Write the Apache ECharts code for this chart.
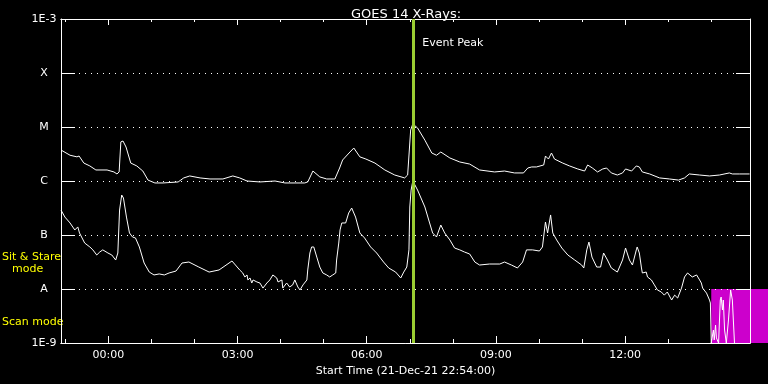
<!DOCTYPE html>
<html>
<head>
<meta charset="utf-8">
<title>GOES 14 X-Rays</title>
<script src="https://cdn.jsdelivr.net/npm/echarts@6.0.0/dist/echarts.min.js"></script>
<style>
  html, body { margin: 0; padding: 0; background: #000; }
  #chart { width: 768px; height: 384px; }
</style>
</head>
<body>
<div id="chart"></div>
<script>
// time is in hours from 00:00 UT 22-Dec-21 (plot starts 21-Dec-21 22:54)
const startHour = -1.1;
const endHour = 14.9;
const peakHour = 7.07;
const scanStartHour = 14.0;

const majorHours = [0, 3, 6, 9, 12];
const minorHours = [-1, 0, 1, 2, 3, 4, 5, 6, 7, 8, 9, 10, 11, 12, 13, 14];
const levelNames = { "-3": "1E-3", "-4": "X", "-5": "M", "-6": "C", "-7": "B", "-8": "A", "-9": "1E-9" };

// 1-8 A channel (upper curve), W/m^2
const longChannel = [
  [-1.10, 3.75e-6], [-0.89, 3.0e-6], [-0.73, 2.8e-6], [-0.68, 2.9e-6], [-0.57, 2.15e-6],
  [-0.43, 1.9e-6], [-0.29, 1.6e-6], [-0.03, 1.6e-6], [0.13, 1.47e-6], [0.20, 1.35e-6],
  [0.25, 1.47e-6], [0.29, 5.3e-6], [0.34, 5.5e-6], [0.41, 4.26e-6], [0.52, 2.15e-6],
  [0.66, 1.9e-6], [0.80, 1.53e-6], [0.92, 1.04e-6], [1.08, 0.92e-6], [1.27, 0.92e-6],
  [1.62, 0.96e-6], [1.75, 1.14e-6], [1.89, 1.24e-6], [2.13, 1.14e-6], [2.36, 1.09e-6],
  [2.66, 1.09e-6], [2.89, 1.24e-6], [3.05, 1.14e-6], [3.22, 1.0e-6], [3.52, 0.96e-6],
  [3.87, 1.0e-6], [4.10, 0.92e-6], [4.56, 0.92e-6], [4.63, 0.96e-6], [4.75, 1.53e-6],
  [4.91, 1.19e-6], [5.07, 1.09e-6], [5.26, 1.09e-6], [5.37, 1.74e-6], [5.44, 2.45e-6],
  [5.61, 3.44e-6], [5.70, 4.08e-6], [5.84, 2.8e-6], [5.98, 2.55e-6], [6.19, 2.15e-6],
  [6.42, 1.6e-6], [6.65, 1.29e-6], [6.88, 1.14e-6], [6.95, 1.29e-6], [7.02, 8.8e-6],
  [7.07, 1.14e-5], [7.18, 9.6e-6], [7.35, 5.7e-6], [7.51, 3.3e-6], [7.62, 3.0e-6],
  [7.72, 3.44e-6], [7.93, 2.67e-6], [8.16, 2.25e-6], [8.39, 2.06e-6], [8.62, 1.6e-6],
  [8.97, 1.47e-6], [9.20, 1.53e-6], [9.43, 1.41e-6], [9.64, 1.41e-6], [9.74, 1.74e-6],
  [9.83, 1.82e-6], [9.94, 1.82e-6], [10.11, 1.98e-6], [10.15, 2.9e-6], [10.22, 2.55e-6],
  [10.29, 3.3e-6], [10.36, 2.55e-6], [10.55, 2.15e-6], [10.71, 1.9e-6], [10.90, 1.67e-6],
  [11.06, 1.53e-6], [11.13, 1.98e-6], [11.24, 1.74e-6], [11.36, 1.47e-6], [11.48, 1.67e-6],
  [11.57, 1.74e-6], [11.68, 1.41e-6], [11.82, 1.29e-6], [11.94, 1.41e-6], [12.01, 1.67e-6],
  [12.15, 1.53e-6], [12.26, 1.9e-6], [12.33, 1.82e-6], [12.40, 1.47e-6], [12.57, 1.35e-6],
  [12.80, 1.14e-6], [13.03, 1.09e-6], [13.24, 1.04e-6], [13.38, 1.14e-6], [13.49, 1.35e-6],
  [13.73, 1.29e-6], [13.96, 1.24e-6], [14.19, 1.29e-6], [14.42, 1.41e-6], [14.49, 1.35e-6],
  [14.65, 1.35e-6], [14.89, 1.35e-6]
];

// 0.5-4 A channel (lower curve), W/m^2
const shortChannel = [
  [-1.10, 2.9e-7], [-1.01, 2.15e-7], [-0.89, 1.67e-7], [-0.78, 1.24e-7], [-0.71, 1.41e-7],
  [-0.67, 1.09e-7], [-0.55, 7.1e-8], [-0.43, 6.0e-8], [-0.36, 5.3e-8], [-0.27, 4.26e-8],
  [-0.20, 4.84e-8], [-0.13, 5.3e-8], [-0.01, 4.64e-8], [0.08, 4.26e-8], [0.17, 3.44e-8],
  [0.22, 4.64e-8], [0.26, 2.9e-7], [0.31, 5.5e-7], [0.35, 4.84e-7], [0.42, 2.15e-7],
  [0.49, 1.09e-7], [0.56, 9.2e-8], [0.63, 8.8e-8], [0.72, 6.0e-8], [0.83, 3.03e-8],
  [0.95, 2.06e-8], [1.06, 1.82e-8], [1.18, 1.9e-8], [1.30, 1.82e-8], [1.41, 1.98e-8],
  [1.57, 2.15e-8], [1.71, 3.03e-8], [1.87, 3.16e-8], [2.10, 2.55e-8], [2.34, 2.06e-8],
  [2.57, 2.25e-8], [2.87, 3.3e-8], [3.05, 2.25e-8], [3.12, 1.98e-8], [3.17, 1.67e-8],
  [3.22, 1.82e-8], [3.24, 1.47e-8], [3.29, 1.6e-8], [3.33, 1.29e-8], [3.36, 1.47e-8],
  [3.45, 1.35e-8], [3.52, 1.29e-8], [3.59, 1.04e-8], [3.68, 1.29e-8], [3.75, 1.47e-8],
  [3.82, 1.82e-8], [3.84, 1.98e-8], [3.91, 1.6e-8], [3.94, 1.35e-8], [3.98, 1.29e-8],
  [4.03, 1.47e-8], [4.05, 1.04e-8], [4.14, 1.29e-8], [4.21, 1.09e-8], [4.28, 1.19e-8],
  [4.33, 1.47e-8], [4.40, 1.09e-8], [4.45, 9.6e-9], [4.52, 1.19e-8], [4.61, 1.47e-8],
  [4.63, 2.25e-8], [4.68, 4.64e-8], [4.72, 6.0e-8], [4.77, 6.0e-8], [4.84, 3.9e-8],
  [4.91, 2.55e-8], [4.98, 1.98e-8], [5.07, 1.82e-8], [5.14, 1.67e-8], [5.21, 1.82e-8],
  [5.28, 1.98e-8], [5.30, 3.44e-8], [5.35, 7.1e-8], [5.38, 1.24e-7], [5.42, 1.67e-7],
  [5.51, 1.67e-7], [5.58, 2.55e-7], [5.65, 3.16e-7], [5.74, 2.15e-7], [5.84, 1.09e-7],
  [5.95, 8.8e-8], [6.09, 6.0e-8], [6.23, 4.64e-8], [6.39, 3.16e-8], [6.51, 2.45e-8],
  [6.67, 2.06e-8], [6.79, 1.6e-8], [6.86, 2.06e-8], [6.93, 2.55e-8], [6.98, 5.3e-8],
  [7.00, 3.3e-7], [7.03, 6.8e-7], [7.07, 1.0e-6], [7.18, 6.8e-7], [7.35, 3.3e-7],
  [7.46, 1.67e-7], [7.53, 1.09e-7], [7.62, 9.2e-8], [7.72, 1.53e-7], [7.81, 1.09e-7],
  [7.93, 8.1e-8], [8.04, 5.74e-8], [8.16, 5.3e-8], [8.27, 4.84e-8], [8.39, 4.45e-8],
  [8.51, 3.16e-8], [8.62, 2.78e-8], [8.85, 2.9e-8], [9.09, 2.9e-8], [9.20, 3.16e-8],
  [9.36, 2.78e-8], [9.50, 2.45e-8], [9.62, 3.16e-8], [9.71, 5.3e-8], [9.85, 5.3e-8],
  [10.01, 5.05e-8], [10.08, 6.0e-8], [10.15, 1.74e-7], [10.20, 1.09e-7], [10.27, 2.35e-7],
  [10.32, 1.09e-7], [10.41, 8.1e-8], [10.53, 5.74e-8], [10.67, 4.26e-8], [10.83, 3.44e-8],
  [10.99, 2.78e-8], [11.04, 2.45e-8], [11.11, 5.3e-8], [11.16, 7.4e-8], [11.23, 3.9e-8],
  [11.34, 2.55e-8], [11.43, 2.55e-8], [11.50, 4.64e-8], [11.59, 3.44e-8], [11.68, 2.45e-8],
  [11.82, 2.06e-8], [11.94, 3.44e-8], [12.01, 5.74e-8], [12.10, 3.44e-8], [12.17, 2.78e-8],
  [12.26, 5.3e-8], [12.28, 6.0e-8], [12.33, 4.64e-8], [12.38, 2.45e-8], [12.40, 1.98e-8],
  [12.49, 2.06e-8], [12.52, 1.67e-8], [12.61, 1.47e-8], [12.68, 1.19e-8], [12.75, 9.6e-9],
  [12.84, 8.8e-9], [12.91, 7.7e-9], [12.98, 8.8e-9], [13.08, 6.25e-9], [13.15, 7.7e-9],
  [13.22, 6.8e-9], [13.31, 1.04e-8], [13.38, 1.67e-8], [13.45, 1.98e-8], [13.49, 1.98e-8],
  [13.56, 1.67e-8], [13.66, 1.82e-8], [13.73, 1.47e-8], [13.77, 1.29e-8], [13.80, 1.04e-8],
  [13.89, 8.4e-9], [13.96, 6.25e-9], [13.98, 5.5e-9], [14.00, 1.0e-9], [14.05, 1.74e-9],
  [14.07, 1.14e-9], [14.10, 2.15e-9], [14.12, 1.24e-9], [14.17, 1.0e-9], [14.21, 6.25e-9],
  [14.23, 7.1e-9], [14.26, 4.08e-9], [14.28, 6.25e-9], [14.31, 1.74e-9], [14.35, 1.0e-9],
  [14.40, 2.67e-9], [14.45, 9.6e-9], [14.47, 1.0e-8], [14.49, 6.25e-9], [14.54, 1.0e-9]
];

// scan mode band: [start hour, top flux, bottom flux]
const scanBand = [[scanStartHour, 1e-8, 1e-9]];

const font = "DejaVu Sans";
const white = "#ffffff";

const hhmm = (v) => (v < 10 ? "0" + v : "" + v) + ":00";

const timeAxis = (position, ticks, tickLen, extra) =>
  Object.assign(
    {
      type: "value",
      position: position,
      min: startHour,
      max: endHour,
      splitLine: { show: false },
      axisLine: { show: true, onZero: false, lineStyle: { color: white, width: 1 } },
      axisTick: {
        show: true,
        inside: true,
        length: tickLen,
        customValues: ticks,
        lineStyle: { color: white },
      },
      axisLabel: { show: false },
    },
    extra || {}
  );

const fluxAxis = (position, extra) =>
  Object.assign(
    {
      type: "log",
      logBase: 10,
      position: position,
      min: 1e-9,
      max: 1e-3,
      interval: 1,
      axisLine: { show: true, onZero: false, lineStyle: { color: white, width: 1 } },
      axisTick: { show: true, inside: true, length: 14, lineStyle: { color: white } },
      axisLabel: { show: false },
      splitLine: { show: false },
    },
    extra || {}
  );

const chart = echarts.init(document.getElementById("chart"));

chart.setOption({
  backgroundColor: "#000000",
  animation: false,
  textStyle: { fontFamily: font },
  title: {
    text: "GOES 14 X-Rays:",
    left: 346,
    top: 3,
    textStyle: { color: white, fontSize: 13, fontWeight: "normal", fontFamily: font },
  },
  grid: { left: 61, right: 18, top: 19, bottom: 41 },
  xAxis: [
    timeAxis("bottom", majorHours, 7, {
      axisLabel: {
        show: true,
        customValues: majorHours,
        formatter: hhmm,
        color: white,
        fontSize: 11,
        margin: 7,
      },
      name: "Start Time (21-Dec-21 22:54:00)",
      nameLocation: "middle",
      nameGap: 20,
      nameTextStyle: { color: white, fontSize: 11 },
    }),
    timeAxis("bottom", minorHours, 4),
    timeAxis("top", majorHours, 6),
    timeAxis("top", minorHours, 3),
  ],
  yAxis: [
    fluxAxis("left", {
      axisLabel: {
        show: true,
        color: white,
        fontSize: 11,
        align: "center",
        margin: 17,
        formatter: (v) => levelNames[String(Math.round(Math.log10(v)))] || "",
      },
      splitLine: { show: true, lineStyle: { color: white, width: 1, type: [1, 5] } },
    }),
    fluxAxis("right"),
  ],
  graphic: [
    { type: "text", left: 2, top: 252, style: { text: "Sit & Stare", fill: "#ffff00", font: "11px " + font } },
    { type: "text", left: 12, top: 264, style: { text: "mode", fill: "#ffff00", font: "11px " + font } },
    { type: "text", left: 2, top: 317, style: { text: "Scan mode", fill: "#ffff00", font: "11px " + font } },
  ],
  series: [
    {
      type: "custom",
      name: "scan",
      z: -1,
      silent: true,
      clip: false,
      xAxisIndex: 0,
      yAxisIndex: 0,
      encode: { x: 0, y: [1, 2] },
      renderItem: (params, api) => {
        const top = api.coord([api.value(0), api.value(1)]);
        const bottom = api.coord([api.value(0), api.value(2)]);
        return {
          type: "rect",
          shape: { x: top[0], y: top[1], width: api.getWidth() - top[0], height: bottom[1] - top[1] },
          style: { fill: "#cc00cc" },
        };
      },
      data: scanBand,
    },
    {
      type: "line",
      name: "1-8 A",
      xAxisIndex: 0,
      yAxisIndex: 0,
      showSymbol: false,
      symbol: "none",
      lineStyle: { color: white, width: 1 },
      data: longChannel,
    },
    {
      type: "line",
      name: "0.5-4 A",
      xAxisIndex: 0,
      yAxisIndex: 0,
      showSymbol: false,
      symbol: "none",
      lineStyle: { color: white, width: 1 },
      data: shortChannel,
      markLine: {
        silent: true,
        symbol: ["none", "none"],
        label: { show: false },
        lineStyle: { color: "#9acd32", width: 3, type: "solid" },
        data: [{ xAxis: peakHour }],
      },
      markPoint: {
        silent: true,
        symbol: "rect",
        symbolSize: 1,
        itemStyle: { color: "rgba(0,0,0,0)" },
        label: {
          show: true,
          position: "right",
          distance: 9,
          formatter: "Event Peak",
          color: white,
          fontSize: 11,
        },
        data: [{ coord: [peakHour, 3.6e-4] }],
      },
    },
  ],
});
</script>
</body>
</html>
